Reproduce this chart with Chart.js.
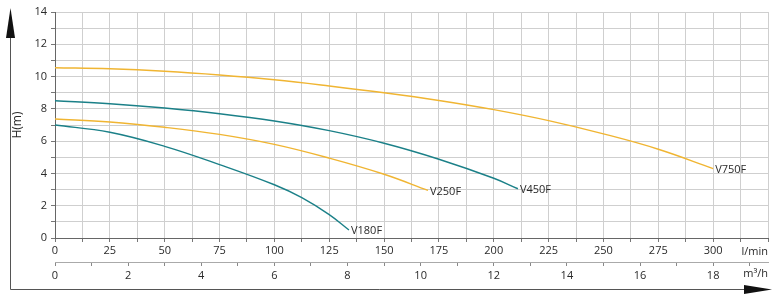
<!DOCTYPE html>
<html>
<head>
<meta charset="utf-8">
<script src="https://cdn.jsdelivr.net/npm/chart.js@4/dist/chart.umd.min.js"></script>
<style>
  html, body { margin: 0; padding: 0; background: #fff; }
  #wrap { width: 779px; height: 300px; }
</style>
</head>
<body>
<div id="wrap"><canvas id="pumpChart"></canvas></div>
<script>
// flow in l/min, head in m
const v180Flow = [0, 25, 50, 75, 100, 112.5, 125, 134];
const v180Head = [7.0, 6.55, 5.68, 4.55, 3.3, 2.5, 1.45, 0.5];

const v250Flow = [0, 25, 50, 75, 100, 125, 150, 170];
const v250Head = [7.37, 7.19, 6.86, 6.42, 5.8, 4.95, 3.95, 2.95];

const v450Flow = [0, 25, 50, 75, 100, 125, 150, 175, 200, 211];
const v450Head = [8.5, 8.32, 8.05, 7.7, 7.25, 6.65, 5.87, 4.88, 3.7, 3.05];

const v750Flow = [0, 25, 50, 75, 100, 125, 150, 175, 200, 225, 250, 275, 300];
const v750Head = [10.55, 10.48, 10.33, 10.1, 9.8, 9.42, 9.0, 8.52, 7.95, 7.27, 6.45, 5.5, 4.3];

const modelNames = ["V180F", "V250F", "V450F", "V750F"];
const yTicks = [0, 2, 4, 6, 8, 10, 12, 14];
const lminTicks = [0, 25, 50, 75, 100, 125, 150, 175, 200, 225, 250, 275, 300];
const m3hTicks = [0, 2, 4, 6, 8, 10, 12, 14, 16, 18];

const teal = '#1b8088';
const yellow = '#f0b532';
const txt = '#2a2a2a';
const font = { family: "'Open Sans', sans-serif", size: 11 };

function pts(fx, hy) {
  return fx.map((x, i) => ({ x: x, y: hy[i] }));
}

const decorations = {
  id: 'decorations',
  afterDatasetsDraw(chart) {
    const ctx = chart.ctx;
    const area = chart.chartArea;
    ctx.save();
    // curve names at the end of each curve
    ctx.fillStyle = txt;
    ctx.font = "11px 'Open Sans', sans-serif";
    ctx.textBaseline = 'middle';
    ctx.textAlign = 'left';
    chart.data.datasets.forEach((ds, i) => {
      const meta = chart.getDatasetMeta(i);
      const last = meta.data[meta.data.length - 1];
      ctx.fillText(ds.label, last.x + 2, last.y + 1);
    });
    // unit labels
    ctx.textAlign = 'right';
    ctx.fillText('l/min', area.right, chart.scales.x.bottom - 10);
    ctx.fillText('m³/h', area.right, chart.scales.x2.bottom - 12);

    // frame arrows
    ctx.strokeStyle = '#555';
    ctx.fillStyle = '#111';
    ctx.lineWidth = 1;
    ctx.beginPath();
    ctx.moveTo(10.5, 36);
    ctx.lineTo(10.5, 289.5);
    ctx.lineTo(748, 289.5);
    ctx.stroke();
    ctx.beginPath();
    ctx.moveTo(10.5, 8);
    ctx.lineTo(6, 38);
    ctx.lineTo(15, 38);
    ctx.closePath();
    ctx.fill();
    ctx.beginPath();
    ctx.moveTo(772, 289.5);
    ctx.lineTo(744, 285);
    ctx.lineTo(744, 294);
    ctx.closePath();
    ctx.fill();
    ctx.restore();
  }
};

new Chart(document.getElementById('pumpChart'), {
  type: 'line',
  data: {
    datasets: [
      { label: modelNames[0], data: pts(v180Flow, v180Head), borderColor: teal },
      { label: modelNames[1], data: pts(v250Flow, v250Head), borderColor: yellow },
      { label: modelNames[2], data: pts(v450Flow, v450Head), borderColor: teal },
      { label: modelNames[3], data: pts(v750Flow, v750Head), borderColor: yellow }
    ]
  },
  options: {
    responsive: true,
    maintainAspectRatio: false,
    animation: false,
    elements: {
      line: { borderWidth: 1.4, fill: false, tension: 0.4 },
      point: { radius: 0 }
    },
    layout: { padding: { left: 10, top: 12, right: 11, bottom: 14 } },
    plugins: {
      legend: { display: false },
      tooltip: { enabled: false }
    },
    scales: {
      x: {
        type: 'linear',
        position: 'bottom',
        min: 0,
        max: 325,
        afterBuildTicks(scale) {
          const t = [];
          for (let v = 0; v <= 325; v += 12.5) t.push({ value: v });
          scale.ticks = t;
        },
        afterFit(scale) { scale.height = 24; },
        ticks: {
          autoSkip: false,
          maxRotation: 0,
          padding: 2,
          color: txt,
          font: font,
          callback: v => lminTicks.includes(v) ? String(v) : ''
        },
        grid: { color: '#cfcfcf', tickLength: 4, tickColor: '#777' },
        border: { color: '#666' }
      },
      x2: {
        type: 'linear',
        position: 'bottom',
        min: 0,
        max: 19.5,
        afterBuildTicks(scale) {
          const t = [];
          for (let v = 0; v <= 19; v += 1) t.push({ value: v });
          scale.ticks = t;
        },
        afterFit(scale) { scale.height = 24; },
        ticks: {
          autoSkip: false,
          maxRotation: 0,
          padding: 3,
          color: txt,
          font: font,
          callback: v => m3hTicks.includes(v) ? String(v) : ''
        },
        grid: { drawOnChartArea: false, tickLength: 4, tickColor: '#888' },
        border: { color: '#aaa' }
      },
      y: {
        min: 0,
        max: 14,
        afterBuildTicks(scale) {
          const t = [];
          for (let v = 0; v <= 14; v += 1) t.push({ value: v });
          scale.ticks = t;
        },
        afterFit(scale) { scale.width = 45; },
        ticks: {
          autoSkip: false,
          padding: 4,
          color: txt,
          font: font,
          callback: v => yTicks.includes(v) ? String(v) : ''
        },
        grid: { color: '#cfcfcf', tickLength: 4, tickColor: '#777' },
        border: { color: '#666' },
        title: {
          display: true,
          text: 'H(m)',
          color: txt,
          font: { family: "'Open Sans', sans-serif", size: 12 },
          padding: { top: 0, bottom: 0 }
        }
      }
    }
  },
  plugins: [decorations]
});
</script>
</body>
</html>
